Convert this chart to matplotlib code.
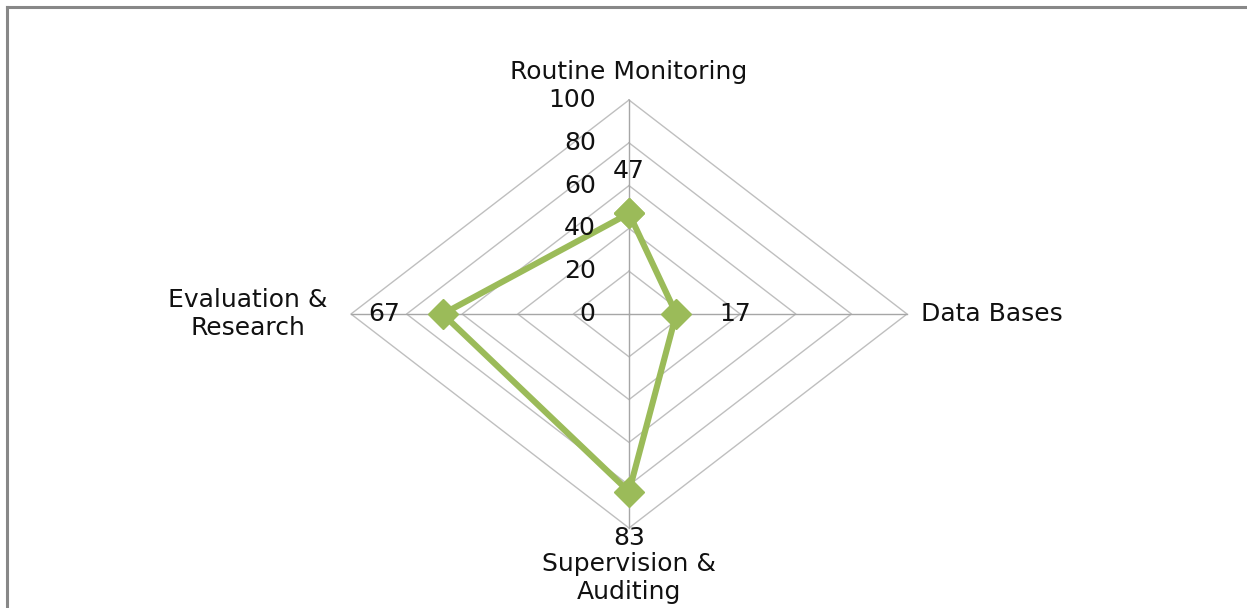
import numpy as np
import matplotlib
matplotlib.use("Agg")
import matplotlib.pyplot as plt
from matplotlib.lines import Line2D

plt.rcParams['font.family'] = ['DejaVu Sans']

# data
categories = ['Routine Monitoring', 'Data Bases', 'Supervision &\nAuditing', 'Evaluation &\nResearch']
values = [47, 17, 83, 67]
ticks = [0, 20, 40, 60, 80, 100]

W, H = 1247, 608
fig = plt.figure(figsize=(W / 100, H / 100), dpi=100)
fig.patch.set_facecolor('white')

# chart frame (only top/left visible in the reference)
fig.add_artist(Line2D([7 / W, 7 / W], [0, 1 - 7 / H], color='#888888', lw=2.2))
fig.add_artist(Line2D([7 / W, 1], [1 - 7 / H, 1 - 7 / H], color='#888888', lw=2.2))

cx, cy = 629, 314
rx, ry = 278, 214
ax = fig.add_axes([(cx - rx) / W, (H - cy - ry) / H, 2 * rx / W, 2 * ry / H])
ax.set_xlim(-100, 100)
ax.set_ylim(-100, 100)
ax.axis('off')

# spokes: top, right, bottom, left
ang = np.array([90, 0, -90, 180]) * np.pi / 180
dx, dy = np.cos(ang), np.sin(ang)
dx[np.abs(dx) < 1e-9] = 0
dy[np.abs(dy) < 1e-9] = 0

for t in ticks[1:]:
    px = np.append(t * dx, t * dx[0])
    py = np.append(t * dy, t * dy[0])
    ax.plot(px, py, color='#bfbfbf', lw=1.0, zorder=1, clip_on=False)
for i in range(4):
    ax.plot([0, 100 * dx[i]], [0, 100 * dy[i]], color='#a6a6a6', lw=1.0, zorder=1, clip_on=False)

# series
v = np.array(values)
sx = np.append(v * dx, v[0] * dx[0])
sy = np.append(v * dy, v[0] * dy[0])
ax.plot(sx, sy, color='#9bbb59', lw=4.4, marker='D', markersize=15.5, zorder=3,
        clip_on=False, solid_joinstyle='miter')

fs = 18
tc = '#111111'
# tick labels along top spoke
for t in ticks:
    ax.text(-12, t, str(t), ha='right', va='center', fontsize=fs, color=tc, zorder=4)

# data labels
ax.text(0, values[0] + 20, str(values[0]), ha='center', va='center', fontsize=fs, color=tc)
ax.text(values[1] + 21, 0, str(values[1]), ha='center', va='center', fontsize=fs, color=tc)
ax.text(0, -values[2] - 21.5, str(values[2]), ha='center', va='center', fontsize=fs, color=tc)
ax.text(-values[3] - 21, 0, str(values[3]), ha='center', va='center', fontsize=fs, color=tc)

# category labels
ax.text(0, 113, categories[0], ha='center', va='center', fontsize=fs, color=tc)
ax.text(105, 0, categories[1], ha='left', va='center', fontsize=fs, color=tc)
ax.text(0, -123.5, categories[2], ha='center', va='center', fontsize=fs, color=tc,
        linespacing=1.2)
ax.text(-137, 0, categories[3], ha='center', va='center', fontsize=fs, color=tc,
        linespacing=1.25)

fig.savefig('out.png', dpi=100, facecolor='white')
